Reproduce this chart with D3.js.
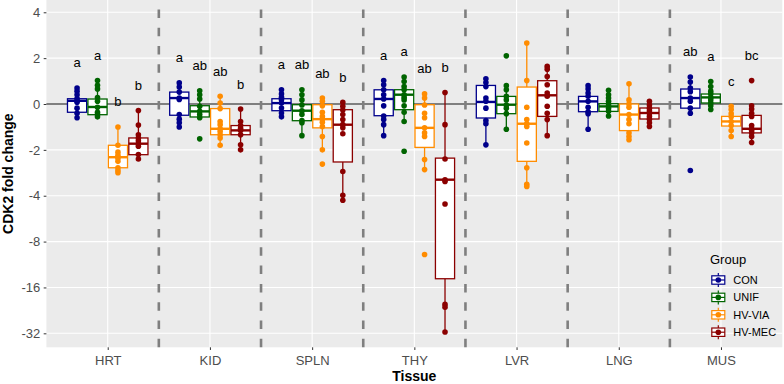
<!DOCTYPE html>
<html><head><meta charset="utf-8">
<script src="https://cdn.jsdelivr.net/npm/d3@7"></script>
<style>body{margin:0;background:#fff}svg{display:block;font-family:"Liberation Sans",Arial,sans-serif}</style>
</head><body><svg id="c" width="784" height="384"></svg>
<script>
// ---- data (values on the plotted signed-log2 scale: 1 => "2", -3 => "-8") ----
const tissues = ["HRT","KID","SPLN","THY","LVR","LNG","MUS"];
const groups = ["CON","UNIF","HV-VIA","HV-MEC"];
const groupColors = ["#00008B","#006400","#FF8C00","#8B0000"];
const yTickValues = [2,1,0,-1,-2,-3,-4,-5];
const yTickLabels = ["4","2","0","-2","-4","-8","-16","-32"];

// box stats per tissue: [whiskerLow, q1, median, q3, whiskerHigh]
const conBox = [[-0.30,-0.18,0.07,0.115,0.35],[-0.50,-0.245,0.13,0.26,0.46],[-0.28,-0.146,0.02,0.115,0.31],[-0.69,-0.255,0.11,0.31,0.51],[-0.89,-0.305,0.045,0.405,0.55],[-0.545,-0.168,0.057,0.166,0.40],[-0.20,-0.09,0.13,0.327,0.59]];
const unifBox = [[-0.283,-0.233,-0.065,0.109,0.514],[-0.305,-0.283,-0.161,-0.037,0.29],[-0.69,-0.364,-0.146,-0.015,0.312],[-0.379,-0.124,0.203,0.312,0.588],[-0.545,-0.211,-0.015,0.166,0.399],[-0.255,-0.161,-0.052,0.007,0.297],[-0.124,0.022,0.144,0.218,0.493]];
const viaBox = [[-1.50,-1.39,-1.16,-0.90,-0.50],[-0.90,-0.67,-0.54,-0.10,0.17],[-1.0,-0.52,-0.33,-0.015,0.13],[-1.43,-0.946,-0.52,-0.015,0.22],[-1.79,-1.25,-0.43,0.37,1.33],[-0.78,-0.58,-0.23,0.0,0.44],[-0.71,-0.48,-0.38,-0.27,-0.05]];
const mecBox = [[-1.2,-1.105,-0.865,-0.74,-0.14],[-1.0,-0.67,-0.575,-0.47,-0.11],[-2.1,-1.264,-0.451,-0.124,0.035],[-4.97,-3.81,-1.65,-1.18,0.25],[-0.69,-0.27,0.19,0.508,0.82],[-0.49,-0.327,-0.196,-0.087,0.057],[-0.84,-0.63,-0.54,-0.248,-0.04]];

// individual points per tissue
const conPts = [[0.35,0.28,0.2,0.12,0.07,0.04,-0.09,-0.2,-0.3],[0.46,0.37,0.26,0.13,0.1,-0.23,-0.33,-0.41,-0.5],[0.31,0.22,0.145,0.094,0.02,-0.087,-0.196,-0.28],[0.51,0.42,0.31,0.2,0.11,-0.04,-0.26,-0.34,-0.45,-0.69],[0.55,0.47,0.38,0.13,0.06,-0.09,-0.36,-0.43,-0.89],[0.4,0.33,0.24,0.17,0.06,-0.07,-0.17,-0.21,-0.55],[0.59,0.48,0.35,0.27,0.13,0.06,-0.09,-0.2,-1.45]];
const unifPts = [[0.51,0.41,0.33,0.14,0.06,-0.07,-0.18,-0.23,-0.28],[0.29,0.2,0.11,-0.05,-0.16,-0.23,-0.3,-0.76],[0.31,0.2,0.09,-0.02,-0.15,-0.23,-0.36,-0.41,-0.69],[0.59,0.49,0.38,0.31,0.2,0.14,0.09,-0.04,-0.18,-0.38,-1.03],[1.05,0.4,0.31,0.17,0.09,-0.02,-0.09,-0.21,-0.55],[0.3,0.2,0.13,0.06,0.0,-0.05,-0.1,-0.16,-0.26],[0.49,0.38,0.28,0.22,0.14,0.09,0.02,-0.04,-0.12]];
const viaPts = [[-0.5,-0.9,-1.05,-1.12,-1.18,-1.25,-1.39,-1.45,-1.5],[0.17,0.02,-0.1,-0.38,-0.45,-0.54,-0.6,-0.67,-0.74,-0.9],[0.13,0.06,-0.04,-0.18,-0.27,-0.33,-0.4,-0.49,-0.71,-1.0,-1.31],[0.22,0.13,-0.02,-0.2,-0.3,-0.52,-0.63,-0.71,-1.21,-1.43,-3.28],[1.33,0.51,-0.07,-0.34,-0.43,-0.49,-0.85,-1.39,-1.75,-1.8],[0.44,0.09,0.0,-0.07,-0.23,-0.34,-0.43,-0.63,-0.71,-0.78],[-0.05,-0.12,-0.21,-0.28,-0.38,-0.47,-0.58,-0.71]];
const mecPts = [[-0.14,-0.46,-0.67,-0.74,-0.8,-0.87,-0.92,-1.1,-1.2],[-0.11,-0.38,-0.47,-0.53,-0.58,-0.67,-0.89,-1.0],[0.035,-0.05,-0.13,-0.23,-0.34,-0.45,-0.52,-0.65,-1.47,-1.99,-2.1],[0.25,-0.45,-1.2,-1.65,-1.69,-2.18,-4.37,-4.43,-4.97],[0.82,0.76,0.6,0.42,0.24,0.17,-0.05,-0.2,-0.34,-0.69],[0.06,-0.02,-0.09,-0.15,-0.2,-0.27,-0.33,-0.41,-0.49],[0.51,-0.04,-0.11,-0.2,-0.27,-0.47,-0.54,-0.58,-0.63,-0.71,-0.84]];

// significance letters
const conLetters = ["a","a","a","a","","","ab"];
const unifLetters = ["a","ab","ab","a","","","a"];
const viaLetters = ["b","ab","ab","ab","","","c"];
const mecLetters = ["b","b","b","b","","","bc"];

const boxes = [conBox, unifBox, viaBox, mecBox];
const points = [conPts, unifPts, viaPts, mecPts];
const letters = [conLetters, unifLetters, viaLetters, mecLetters];

// ---- layout ----
const P = {left:46.4, right:782.3, top:0, bottom:347.3};
const svg = d3.select("#c");
const x = d3.scalePoint().domain(tissues).range([P.left, P.right]).padding(0.6);
const step = x.step();
const gx = d3.scaleBand().domain(groups).range([-0.4*step, 0.4*step]);
const boxW = 0.75*step/4;
const y = d3.scaleLinear().domain([-5.305, 2.268]).range([P.bottom, P.top]);
const color = d3.scaleOrdinal().domain(groups).range(groupColors);
const gc = g => gx(g) + gx.bandwidth()/2;

// panel
svg.append("rect").attr("x",P.left).attr("y",P.top).attr("width",P.right-P.left).attr("height",P.bottom-P.top).attr("fill","#EBEBEB");
const grid = svg.append("g");
grid.selectAll("line.h").data(yTickValues).join("line")
  .attr("x1",P.left).attr("x2",P.right).attr("y1",d=>y(d)).attr("y2",d=>y(d))
  .attr("stroke","#fff").attr("stroke-width",1.1);
grid.selectAll("line.v").data(tissues).join("line")
  .attr("x1",d=>x(d)).attr("x2",d=>x(d)).attr("y1",P.top).attr("y2",P.bottom)
  .attr("stroke","#fff").attr("stroke-width",1.1);

// dashed separators
svg.append("g").selectAll("line").data(tissues.slice(1)).join("line")
  .attr("x1",d=>x(d)-step/2).attr("x2",d=>x(d)-step/2)
  .attr("y1",P.bottom).attr("y2",P.top)
  .attr("stroke","#7F7F7F").attr("stroke-width",2.6).attr("stroke-dasharray","8.5,9.8");

// zero line
svg.append("line").attr("x1",P.left).attr("x2",P.right).attr("y1",y(0)).attr("y2",y(0))
  .attr("stroke","#7F7F7F").attr("stroke-width",2.2);

// boxplots
const marks = svg.append("g");
groups.forEach((g,gi)=>{
  const col = color(g);
  tissues.forEach((t,ti)=>{
    const [lo,q1,med,q3,hi] = boxes[gi][ti];
    const cx = x(t) + gc(g);
    const G = marks.append("g");
    G.append("line").attr("x1",cx).attr("x2",cx).attr("y1",y(hi)).attr("y2",y(q3)).attr("stroke",col).attr("stroke-width",1.3);
    G.append("line").attr("x1",cx).attr("x2",cx).attr("y1",y(q1)).attr("y2",y(lo)).attr("stroke",col).attr("stroke-width",1.3);
    G.append("rect").attr("x",cx-boxW/2).attr("width",boxW).attr("y",y(q3)).attr("height",y(q1)-y(q3))
      .attr("fill","#fff").attr("stroke",col).attr("stroke-width",1.3);
    G.append("line").attr("x1",cx-boxW/2).attr("x2",cx+boxW/2).attr("y1",y(med)).attr("y2",y(med)).attr("stroke",col).attr("stroke-width",2.4);
  });
});
// points
groups.forEach((g,gi)=>{
  const col = color(g);
  tissues.forEach((t,ti)=>{
    const cx = x(t) + gc(g);
    marks.append("g").selectAll("circle").data(points[gi][ti]).join("circle")
      .attr("cx",cx).attr("cy",d=>y(d)).attr("r",2.8).attr("fill",col);
  });
});
// letters
groups.forEach((g,gi)=>{
  tissues.forEach((t,ti)=>{
    const lab = letters[gi][ti];
    if(!lab) return;
    const top = d3.max([...points[gi][ti], boxes[gi][ti][4]]);
    svg.append("text").attr("x",x(t)+gc(g)).attr("y",y(top)-20.5)
      .attr("text-anchor","middle").attr("font-size",13).attr("fill","#000").text(lab);
  });
});

// axes
const yAxis = d3.axisLeft(y).tickValues(yTickValues).tickFormat((d,i)=>yTickLabels[i]).tickSize(2.7).tickPadding(3.5);
const ya = svg.append("g").attr("transform",`translate(${P.left},0)`).call(yAxis);
ya.select(".domain").remove();
ya.selectAll(".tick line").attr("stroke","#333");
ya.selectAll(".tick text").attr("fill","#4D4D4D").attr("font-size",13).attr("font-family","Liberation Sans, Arial, sans-serif");

const xAxis = d3.axisBottom(x).tickSize(2.7).tickPadding(5.8);
const xa = svg.append("g").attr("transform",`translate(0,${P.bottom})`).call(xAxis);
xa.select(".domain").remove();
xa.selectAll(".tick line").attr("stroke","#333");
xa.selectAll(".tick text").attr("fill","#4D4D4D").attr("font-size",13).attr("font-family","Liberation Sans, Arial, sans-serif");

svg.append("text").attr("x",(P.left+P.right)/2).attr("y",381.2).attr("text-anchor","middle")
  .attr("font-weight","bold").attr("font-size",14).text("Tissue");
svg.append("text").attr("transform",`translate(12.8,${(P.top+P.bottom)/2}) rotate(-90)`).attr("text-anchor","middle")
  .attr("font-weight","bold").attr("font-size",14).text("CDK2 fold change");

// legend
const L = svg.append("g");
L.append("text").attr("x",710).attr("y",264).attr("font-size",13).text("Group");
groups.forEach((g,i)=>{
  const cy = 280 + i*17.4, cx = 718.3, col = color(g);
  const k = L.append("g");
  k.append("line").attr("x1",cx).attr("x2",cx).attr("y1",cy-7).attr("y2",cy+7).attr("stroke",col).attr("stroke-width",1.2);
  k.append("rect").attr("x",cx-6.5).attr("y",cy-4.2).attr("width",13).attr("height",8.4).attr("fill","#fff").attr("stroke",col).attr("stroke-width",1.2);
  k.append("line").attr("x1",cx-6.5).attr("x2",cx+6.5).attr("y1",cy).attr("y2",cy).attr("stroke",col).attr("stroke-width",1.2);
  k.append("circle").attr("cx",cx).attr("cy",cy).attr("r",2.8).attr("fill",col);
  L.append("text").attr("x",733.3).attr("y",cy).attr("dy","0.35em").attr("font-size",11).text(g);
});
</script></body></html>
